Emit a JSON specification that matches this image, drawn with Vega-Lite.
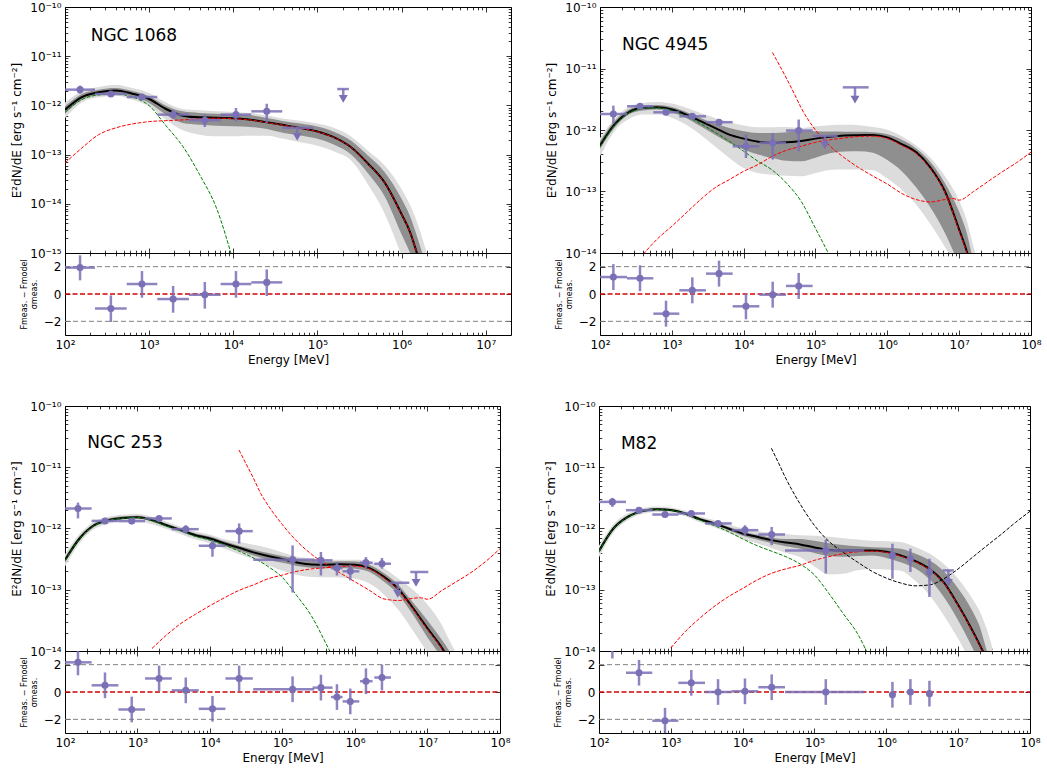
{
"$schema":"https://vega.github.io/schema/vega-lite/v6.json",
"padding":{"left":10,"top":0,"right":0,"bottom":0},
"config":{"font":"DejaVu Sans","view":{"stroke":"black","strokeWidth":1},"mark":{"invalid":"filter"},
"axis":{"domain":false,"grid":false,"tickColor":"black","tickWidth":0.8,"labelFont":"DejaVu Sans","labelFontSize":12,"labelColor":"black","titleFont":"DejaVu Sans","titleFontSize":12,"titleFontWeight":"normal","titleColor":"black","labelFlush":false,"labelOverlap":false}},
"datasets":{
"hl":[{"k":"g","r":2,"Ea":100,"Eb":100000000},{"k":"g","r":-2,"Ea":100,"Eb":100000000},{"k":"z","r":0,"Ea":100,"Eb":100000000}],
"c1":[
{"E":100,"t":8.19e-13,"dh":9.57e-13,"dl":6.79e-13,"lh":1.15e-12,"ll":5.55e-13,"g":7.24e-13,"r":6.75e-14},
{"E":158.5,"t":1.48e-12,"dh":1.71e-12,"dl":1.31e-12,"lh":1.93e-12,"ll":1.15e-12,"g":1.31e-12,"r":1.36e-13},
{"E":251.2,"t":1.85e-12,"dh":2.09e-12,"dl":1.65e-12,"lh":2.37e-12,"ll":1.46e-12,"g":1.63e-12,"r":2.54e-13},
{"E":398.1,"t":2.02e-12,"dh":2.26e-12,"dl":1.79e-12,"lh":2.64e-12,"ll":1.58e-12,"g":1.71e-12,"r":3.48e-13},
{"E":631,"t":1.73e-12,"dh":1.96e-12,"dl":1.53e-12,"lh":2.26e-12,"ll":1.31e-12,"g":1.48e-12,"r":4.19e-13},
{"E":1000,"t":1.35e-12,"dh":1.53e-12,"dl":1.12e-12,"lh":1.79e-12,"ll":9.57e-13,"g":9.89e-13,"r":4.68e-13},
{"E":1585,"t":8.45e-13,"dh":9.89e-13,"dl":6.49e-13,"lh":1.15e-12,"ll":5.13e-13,"g":3.87e-13,"r":4.9e-13},
{"E":2512,"t":6.18e-13,"dh":7.57e-13,"dl":4.39e-13,"lh":8.45e-13,"ll":3.11e-13,"g":1.47e-13,"r":5.07e-13},
{"E":3981,"t":5.71e-13,"dh":7.01e-13,"dl":4.06e-13,"lh":7.94e-13,"ll":2.54e-13,"g":3.91e-14,"r":5.31e-13},
{"E":6310,"t":5.64e-13,"dh":6.79e-13,"dl":3.87e-13,"lh":7.57e-13,"ll":2.35e-13,"g":8.22e-15,"r":5.5e-13},
{"E":10000,"t":5.46e-13,"dh":6.58e-13,"dl":3.76e-13,"lh":7.35e-13,"ll":2.35e-13,"g":6.76e-16,"r":5.37e-13},
{"E":15850,"t":5.13e-13,"dh":6.28e-13,"dl":3.64e-13,"lh":7.01e-13,"ll":2.43e-13,"r":5.07e-13},
{"E":25120,"t":4.53e-13,"dh":5.55e-13,"dl":3.31e-13,"lh":6.28e-13,"ll":2.43e-13,"r":4.47e-13},
{"E":39810,"t":3.98e-13,"dh":4.79e-13,"dl":2.75e-13,"lh":5.37e-13,"ll":2.09e-13,"r":3.94e-13},
{"E":63100,"t":3.47e-13,"dh":4.27e-13,"dl":2.45e-13,"lh":4.9e-13,"ll":1.78e-13,"r":3.43e-13},
{"E":100000,"t":2.95e-13,"dh":3.72e-13,"dl":2.09e-13,"lh":4.27e-13,"ll":1.51e-13,"r":2.92e-13},
{"E":158500,"t":2.24e-13,"dh":2.88e-13,"dl":1.58e-13,"lh":3.47e-13,"ll":1.15e-13,"r":2.21e-13},
{"E":251200,"t":1.41e-13,"dh":1.91e-13,"dl":1.0e-13,"lh":2.34e-13,"ll":7.59e-14,"r":1.4e-13},
{"E":398100,"t":6.61e-14,"dh":9.55e-14,"dl":4.17e-14,"lh":1.2e-13,"ll":2.51e-14,"r":6.53e-14},
{"E":631000,"t":2.69e-14,"dh":4.37e-14,"dl":1.41e-14,"lh":6.03e-14,"ll":6.31e-15,"r":2.66e-14},
{"E":1000000,"t":6.17e-15,"dh":1.26e-14,"dl":2.4e-15,"lh":2.0e-14,"ll":8.91e-16,"r":6.1e-15},
{"E":1259000,"t":2.69e-15,"dh":5.62e-15,"dl":1.0e-15,"lh":9.55e-15,"ll":3.16e-16,"r":2.66e-15},
{"E":1585000,"t":7.94e-16,"dh":1.78e-15,"dl":3.16e-16,"lh":3.55e-15,"ll":1e-16,"r":7.9e-16},
{"E":1995000,"t":2.0e-16,"dh":5.0e-16,"dl":6.3e-17,"lh":1e-15,"ll":3.2e-17,"r":2.0e-16}],
"p1":[
{"E":151,"F":2.09e-12,"Elo":100,"Ehi":227,"Flo":1.73e-12,"Fhi":2.52e-12,"res":1.93,"rl":1.0,"rh":2.83},
{"E":351,"F":1.71e-12,"Elo":227,"Ehi":541,"Flo":1.53e-12,"Fhi":1.9e-12,"res":-1.07,"rl":-2.05,"rh":-0.1},
{"E":822,"F":1.48e-12,"Elo":541,"Ehi":1250,"Flo":1.31e-12,"Fhi":1.68e-12,"res":0.73,"rl":-0.27,"rh":1.68},
{"E":1928,"F":6.49e-13,"Elo":1250,"Ehi":2972,"Flo":5.29e-13,"Fhi":7.94e-13,"res":-0.37,"rl":-1.37,"rh":0.59},
{"E":4590,"F":4.97e-13,"Elo":2972,"Ehi":7079,"Flo":3.64e-13,"Fhi":6.49e-13,"res":-0.05,"rl":-1.07,"rh":0.88},
{"E":10765,"F":6.49e-13,"Elo":7079,"Ehi":16368,"Flo":4.74e-13,"Fhi":8.85e-13,"res":0.73,"rl":-0.27,"rh":1.68},
{"E":25000,"F":7.57e-13,"Elo":16368,"Ehi":38194,"Flo":4.4e-13,"Fhi":1.08e-12,"res":0.85,"rl":-0.15,"rh":1.8},
{"E":57544,"F":3.5e-13,"Elo":38194,"Ehi":89125,"Ft":2.3e-13,"ul":true},
{"E":203000,"F":2.15e-12,"Elo":172000,"Ehi":237000,"Ft":1.35e-12,"ul":true}],
"c2":[
{"E":100,"t":5.57e-13,"dh":6.56e-13,"dl":4.92e-13,"lh":7.43e-13,"ll":3.74e-13,"g":5.31e-13},
{"E":158.5,"t":1.22e-12,"dh":1.39e-12,"dl":1.08e-12,"lh":1.51e-12,"ll":9.55e-13,"g":1.18e-12},
{"E":251.2,"t":1.94e-12,"dh":2.15e-12,"dl":1.78e-12,"lh":2.37e-12,"ll":1.51e-12,"g":1.89e-12},
{"E":398.1,"t":2.29e-12,"dh":2.49e-12,"dl":2.07e-12,"lh":2.75e-12,"ll":1.78e-12,"g":2.23e-12,"r":9.5e-15},
{"E":631,"t":2.34e-12,"dh":2.55e-12,"dl":2.15e-12,"lh":2.86e-12,"ll":1.78e-12,"g":2.29e-12,"r":1.7e-14},
{"E":1000,"t":2.15e-12,"dh":2.37e-12,"dl":1.94e-12,"lh":2.69e-12,"ll":1.57e-12,"g":2.07e-12,"r":2.73e-14},
{"E":1585,"t":1.78e-12,"dh":1.97e-12,"dl":1.57e-12,"lh":2.29e-12,"ll":1.22e-12,"g":1.67e-12,"r":4.49e-14},
{"E":2512,"t":1.39e-12,"dh":1.57e-12,"dl":1.15e-12,"lh":1.89e-12,"ll":8.41e-13,"g":1.27e-12,"r":7.4e-14},
{"E":3981,"t":1.08e-12,"dh":1.27e-12,"dl":8.41e-13,"lh":1.57e-12,"ll":5.45e-13,"g":9.18e-13,"r":1.15e-13},
{"E":6310,"t":8.41e-13,"dh":1.08e-12,"dl":6.17e-13,"lh":1.34e-12,"ll":3.52e-13,"g":6.56e-13,"r":1.56e-13},
{"E":10000,"t":7.24e-13,"dh":9.55e-13,"dl":4.8e-13,"lh":1.18e-12,"ll":2.42e-13,"g":4.51e-13,"r":2.13e-13},
{"E":15850,"t":6.46e-13,"dh":8.95e-13,"dl":3.98e-13,"lh":1.11e-12,"ll":2.0e-13,"g":3.1e-13,"r":2.74e-13},
{"E":25120,"t":6.17e-13,"dh":8.95e-13,"dl":3.52e-13,"lh":1.11e-12,"ll":1.88e-13,"g":2.22e-13,"r":3.74e-13,"s":1.82e-11},
{"E":31620,"s":1.12e-11},
{"E":39810,"t":6.31e-13,"dh":9.23e-13,"dl":3.16e-13,"lh":1.12e-12,"ll":1.8e-13,"g":1.35e-13,"r":4.69e-13,"s":6.76e-12},
{"E":50120,"s":3.98e-12},
{"E":63100,"t":6.61e-13,"dh":9.53e-13,"dl":3.1e-13,"lh":1.08e-12,"ll":1.77e-13,"g":6.92e-14,"r":5.43e-13,"s":2.29e-12},
{"E":100000,"t":7.24e-13,"dh":9.55e-13,"dl":3.55e-13,"lh":1.15e-12,"ll":2.0e-13,"g":2.51e-14,"r":6.31e-13,"s":1.0e-12},
{"E":158500,"t":7.76e-13,"dh":9.44e-13,"dl":4.17e-13,"lh":1.2e-12,"ll":2.24e-13,"g":8.91e-15,"r":6.92e-13,"s":5.5e-13},
{"E":251200,"t":8.13e-13,"dh":9.38e-13,"dl":4.47e-13,"lh":1.22e-12,"ll":2.27e-13,"r":7.41e-13,"s":3.55e-13},
{"E":398100,"t":8.22e-13,"dh":9.33e-13,"dl":4.51e-13,"lh":1.2e-12,"ll":2.27e-13,"r":7.85e-13,"s":2.45e-13},
{"E":631000,"t":8.32e-13,"dh":9.23e-13,"dl":4.27e-13,"lh":1.12e-12,"ll":2.21e-13,"r":7.94e-13,"s":1.78e-13},
{"E":1000000,"t":7.59e-13,"dh":8.51e-13,"dl":3.24e-13,"lh":1.01e-12,"ll":1.62e-13,"r":7.24e-13,"s":1.32e-13},
{"E":1585000,"t":5.89e-13,"dh":6.92e-13,"dl":2.14e-13,"lh":7.94e-13,"ll":1.07e-13,"r":5.62e-13,"s":9.33e-14},
{"E":2512000,"t":4.37e-13,"dh":5.01e-13,"dl":1.17e-13,"lh":5.62e-13,"ll":6.17e-14,"r":4.17e-13,"s":7.41e-14},
{"E":3981000,"t":2.45e-13,"dh":3.02e-13,"dl":5.5e-14,"lh":3.55e-13,"ll":2.95e-14,"r":2.34e-13,"s":6.76e-14},
{"E":6310000,"t":1.02e-13,"dh":1.38e-13,"dl":2.14e-14,"lh":1.78e-13,"ll":1.26e-14,"r":9.77e-14,"s":7.41e-14},
{"E":7943000,"s":7.76e-14},
{"E":10000000,"t":2.4e-14,"dh":4.68e-14,"dl":6.31e-15,"lh":7.08e-14,"ll":5.01e-15,"r":2.29e-14,"s":7.24e-14},
{"E":12590000,"t":1.12e-14,"dh":2.24e-14,"dl":3.16e-15,"lh":3.55e-14,"ll":2.51e-15,"r":1.07e-14},
{"E":15850000,"t":4.47e-15,"dh":7.08e-15,"dl":1.58e-15,"lh":1.26e-14,"ll":1.26e-15,"r":4.27e-15,"s":1.0e-13},
{"E":19950000,"t":1.58e-15,"dh":2.51e-15,"dl":6.3e-16,"lh":5.01e-15,"ll":5e-16,"r":1.51e-15},
{"E":25120000,"s":1.45e-13},
{"E":39810000,"s":2.09e-13},
{"E":63100000,"s":2.95e-13},
{"E":100000000,"s":4.37e-13}],
"p2":[
{"E":153.5,"F":1.82e-12,"Elo":100,"Ehi":237.7,"Flo":1.27e-12,"Fhi":2.49e-12,"res":1.24,"rl":0.29,"rh":2.19},
{"E":360.6,"F":2.43e-12,"Elo":237.7,"Ehi":552,"Flo":2.2e-12,"Fhi":2.69e-12,"res":1.15,"rl":0.2,"rh":2.1},
{"E":829.8,"F":1.94e-12,"Elo":552,"Ehi":1271,"Flo":1.76e-12,"Fhi":2.15e-12,"res":-1.44,"rl":-2.39,"rh":-0.49},
{"E":1928,"F":1.67e-12,"Elo":1271,"Ehi":2992,"Flo":1.51e-12,"Fhi":1.85e-12,"res":0.27,"rl":-0.68,"rh":1.22},
{"E":4539,"F":1.34e-12,"Elo":2992,"Ehi":7031,"Flo":1.18e-12,"Fhi":1.51e-12,"res":1.49,"rl":0.54,"rh":2.44},
{"E":10765,"F":5.44e-13,"Elo":7031,"Ehi":16520,"Flo":3.5e-13,"Fhi":8.4e-13,"res":-0.9,"rl":-1.85,"rh":0.05},
{"E":25350,"F":6.17e-13,"Elo":16520,"Ehi":38815,"Flo":3.3e-13,"Fhi":8.96e-13,"res":-0.05,"rl":-1.0,"rh":0.9},
{"E":58345,"F":9.78e-13,"Elo":38815,"Ehi":91201,"Flo":4.5e-13,"Fhi":1.48e-12,"res":0.59,"rl":-0.36,"rh":1.54},
{"E":134900,"F":8.0e-13,"Elo":91201,"Ehi":204174,"Ft":5.6e-13,"ul":true},
{"E":354800,"F":4.94e-12,"Elo":239900,"Ehi":549500,"Ft":3.12e-12,"ul":true}],
"c3":[
{"E":100,"t":3.05e-13,"dh":3.39e-13,"dl":2.75e-13,"lh":3.8e-13,"ll":2.4e-13,"g":2.98e-13},
{"E":158.5,"t":6.87e-13,"dh":7.41e-13,"dl":6.31e-13,"lh":8.13e-13,"ll":5.75e-13,"g":6.75e-13},
{"E":251.2,"t":1.13e-12,"dh":1.2e-12,"dl":1.06e-12,"lh":1.29e-12,"ll":9.77e-13,"g":1.11e-12},
{"E":398.1,"t":1.37e-12,"dh":1.45e-12,"dl":1.29e-12,"lh":1.55e-12,"ll":1.2e-12,"g":1.35e-12},
{"E":631,"t":1.49e-12,"dh":1.58e-12,"dl":1.41e-12,"lh":1.68e-12,"ll":1.3e-12,"g":1.47e-12},
{"E":1000,"t":1.53e-12,"dh":1.62e-12,"dl":1.45e-12,"lh":1.72e-12,"ll":1.33e-12,"g":1.51e-12},
{"E":1585,"t":1.37e-12,"dh":1.45e-12,"dl":1.29e-12,"lh":1.55e-12,"ll":1.17e-12,"g":1.35e-12,"r":1.1e-14},
{"E":2512,"t":1.13e-12,"dh":1.2e-12,"dl":1.06e-12,"lh":1.29e-12,"ll":9.77e-13,"g":1.1e-12,"r":1.82e-14},
{"E":3981,"t":9.4e-13,"dh":1.0e-12,"dl":8.81e-13,"lh":1.07e-12,"ll":8.04e-13,"g":9.1e-13,"r":2.82e-14},
{"E":6310,"t":7.78e-13,"dh":8.32e-13,"dl":7.24e-13,"lh":8.91e-13,"ll":6.61e-13,"g":7.41e-13,"r":3.98e-14},
{"E":10000,"t":6.87e-13,"dh":7.41e-13,"dl":6.31e-13,"lh":7.94e-13,"ll":5.75e-13,"g":6.46e-13,"r":5.5e-14},
{"E":15850,"t":5.69e-13,"dh":6.17e-13,"dl":5.19e-13,"lh":6.68e-13,"ll":4.68e-13,"g":5.37e-13,"r":7.41e-14},
{"E":25120,"t":4.84e-13,"dh":5.25e-13,"dl":4.37e-13,"lh":6.03e-13,"ll":3.8e-13,"g":4.27e-13,"r":9.77e-14,"s":1.91e-11},
{"E":31620,"s":1.12e-11},
{"E":39810,"t":4.07e-13,"dh":4.52e-13,"dl":3.63e-13,"lh":5.43e-13,"ll":3.16e-13,"g":3.31e-13,"r":1.2e-13,"s":6.61e-12},
{"E":50120,"s":3.72e-12},
{"E":63100,"t":3.55e-13,"dh":3.98e-13,"dl":3.09e-13,"lh":4.79e-13,"ll":2.51e-13,"g":2.4e-13,"r":1.51e-13,"s":2.4e-12},
{"E":100000,"t":3.16e-13,"dh":3.55e-13,"dl":2.75e-13,"lh":4.07e-13,"ll":2.04e-13,"g":1.58e-13,"r":1.74e-13,"s":1.15e-12},
{"E":158500,"t":2.79e-13,"dh":3.16e-13,"dl":2.45e-13,"lh":3.47e-13,"ll":1.74e-13,"g":7.94e-14,"r":2.0e-13,"s":6.17e-13},
{"E":251200,"t":2.59e-13,"dh":2.95e-13,"dl":2.29e-13,"lh":3.24e-13,"ll":1.62e-13,"g":3.72e-14,"r":2.19e-13,"s":3.8e-13},
{"E":398100,"t":2.57e-13,"dh":2.88e-13,"dl":2.24e-13,"lh":3.13e-13,"ll":1.6e-13,"g":1.32e-14,"r":2.29e-13,"s":2.6e-13},
{"E":631000,"t":2.6e-13,"dh":2.92e-13,"dl":2.26e-13,"lh":3.09e-13,"ll":1.58e-13,"g":4.47e-15,"r":2.4e-13,"s":1.86e-13},
{"E":1000000,"t":2.57e-13,"dh":2.88e-13,"dl":2.21e-13,"lh":3.09e-13,"ll":1.51e-13,"r":2.43e-13,"s":1.35e-13},
{"E":1585000,"t":2.26e-13,"dh":2.57e-13,"dl":1.95e-13,"lh":2.88e-13,"ll":1.26e-13,"r":2.19e-13,"s":9.77e-14},
{"E":2512000,"t":1.62e-13,"dh":1.86e-13,"dl":1.35e-13,"lh":2.24e-13,"ll":8.32e-14,"r":1.57e-13,"s":7.08e-14},
{"E":3981000,"t":1.02e-13,"dh":1.2e-13,"dl":8.32e-14,"lh":1.51e-13,"ll":4.68e-14,"r":9.89e-14,"s":6.68e-14},
{"E":6310000,"t":5.01e-14,"dh":6.17e-14,"dl":3.89e-14,"lh":1.0e-13,"ll":2.14e-14,"r":4.84e-14,"s":7.24e-14},
{"E":7943000,"s":7.41e-14},
{"E":10000000,"t":2.34e-14,"dh":3.16e-14,"dl":1.66e-14,"lh":5.75e-14,"ll":9.55e-15,"r":2.26e-14,"s":7.0e-14},
{"E":15850000,"t":1.12e-14,"dh":1.51e-14,"dl":7.59e-15,"lh":2.63e-14,"ll":4.47e-15,"r":1.08e-14,"s":9.77e-14},
{"E":19950000,"t":7.08e-15,"dh":1.0e-14,"dl":4.68e-15,"lh":1.51e-14,"ll":2.82e-15,"r":6.84e-15},
{"E":25120000,"t":3.98e-15,"dh":6.31e-15,"dl":2.51e-15,"lh":8.91e-15,"ll":1.58e-15,"r":3.9e-15,"s":1.36e-13},
{"E":39810000,"s":1.91e-13},
{"E":63100000,"s":2.88e-13},
{"E":100000000,"s":4.68e-13}],
"p3":[
{"E":151,"F":2.12e-12,"Elo":100,"Ehi":233,"Flo":1.46e-12,"Fhi":2.65e-12,"res":2.17,"rl":1.22,"rh":3.0},
{"E":356,"F":1.33e-12,"Elo":233,"Ehi":545,"Flo":1.21e-12,"Fhi":1.46e-12,"res":0.49,"rl":-0.45,"rh":1.43},
{"E":832,"F":1.32e-12,"Elo":545,"Ehi":1271,"Flo":1.2e-12,"Fhi":1.46e-12,"res":-1.28,"rl":-2.22,"rh":-0.34},
{"E":1986,"F":1.46e-12,"Elo":1271,"Ehi":2972,"Flo":1.33e-12,"Fhi":1.59e-12,"res":0.99,"rl":0.05,"rh":1.93},
{"E":4634,"F":9.75e-13,"Elo":2972,"Ehi":6998,"Flo":8.28e-13,"Fhi":1.13e-12,"res":0.12,"rl":-0.82,"rh":1.06},
{"E":10814,"F":5.22e-13,"Elo":6998,"Ehi":16330,"Flo":3.46e-13,"Fhi":6.45e-13,"res":-1.23,"rl":-2.17,"rh":-0.29},
{"E":25235,"F":9.05e-13,"Elo":16330,"Ehi":38900,"Flo":5.69e-13,"Fhi":1.21e-12,"res":0.99,"rl":0.05,"rh":1.93},
{"E":137700,"F":3.1e-13,"Elo":39450,"Ehi":274200,"Flo":9.0e-14,"Fhi":5.3e-13,"res":0.2,"rl":-0.74,"rh":1.14},
{"E":338800,"F":3.02e-13,"Elo":260000,"Ehi":489800,"Flo":1.71e-13,"Fhi":4.13e-13,"res":0.32,"rl":-0.62,"rh":1.26},
{"E":563700,"F":2.26e-13,"Elo":465600,"Ehi":674500,"Flo":1.71e-13,"Fhi":2.84e-13,"res":-0.37,"rl":-1.31,"rh":0.57},
{"E":861000,"F":2.0e-13,"Elo":674500,"Ehi":1146000,"Flo":1.42e-13,"Fhi":2.56e-13,"res":-0.69,"rl":-1.63,"rh":0.25},
{"E":1416000,"F":2.77e-13,"Elo":1170000,"Ehi":1750000,"Flo":2.26e-13,"Fhi":3.42e-13,"res":0.79,"rl":-0.15,"rh":1.73},
{"E":2355000,"F":2.66e-13,"Elo":1845000,"Ehi":3133000,"Flo":2.21e-13,"Fhi":3.3e-13,"res":1.06,"rl":0.12,"rh":2.0},
{"E":3882000,"F":1.3e-13,"Elo":2972000,"Ehi":5610000,"Ft":8.6e-14,"ul":true},
{"E":6950000,"F":1.95e-13,"Elo":5790000,"Ehi":10260000,"Ft":1.3e-13,"ul":true}],
"c4":[
{"E":100,"t":4.27e-13,"dh":4.68e-13,"dl":3.89e-13,"lh":5.25e-13,"ll":3.39e-13,"g":4.22e-13},
{"E":158.5,"t":1.0e-12,"dh":1.07e-12,"dl":9.33e-13,"lh":1.17e-12,"ll":8.51e-13,"g":9.89e-13},
{"E":251.2,"t":1.55e-12,"dh":1.64e-12,"dl":1.46e-12,"lh":1.76e-12,"ll":1.36e-12,"g":1.53e-12},
{"E":398.1,"t":1.92e-12,"dh":2.02e-12,"dl":1.82e-12,"lh":2.14e-12,"ll":1.72e-12,"g":1.9e-12},
{"E":631,"t":2.07e-12,"dh":2.16e-12,"dl":1.97e-12,"lh":2.29e-12,"ll":1.86e-12,"g":2.04e-12},
{"E":1000,"t":2.0e-12,"dh":2.09e-12,"dl":1.91e-12,"lh":2.21e-12,"ll":1.8e-12,"g":1.97e-12,"r":1.12e-14},
{"E":1585,"t":1.76e-12,"dh":1.84e-12,"dl":1.68e-12,"lh":1.95e-12,"ll":1.58e-12,"g":1.74e-12,"r":2.07e-14},
{"E":2512,"t":1.42e-12,"dh":1.5e-12,"dl":1.35e-12,"lh":1.58e-12,"ll":1.26e-12,"g":1.38e-12,"r":3.41e-14},
{"E":3981,"t":1.21e-12,"dh":1.29e-12,"dl":1.14e-12,"lh":1.38e-12,"ll":1.05e-12,"g":1.12e-12,"r":5.28e-14},
{"E":6310,"t":1.0e-12,"dh":1.07e-12,"dl":9.33e-13,"lh":1.17e-12,"ll":8.51e-13,"g":8.91e-13,"r":7.69e-14},
{"E":10000,"t":8.28e-13,"dh":8.91e-13,"dl":7.59e-13,"lh":1.0e-12,"ll":6.76e-13,"g":6.76e-13,"r":1.05e-13},
{"E":15850,"t":7.31e-13,"dh":7.94e-13,"dl":6.61e-13,"lh":9.12e-13,"ll":5.75e-13,"g":5.25e-13,"r":1.44e-13},
{"E":25120,"t":6.46e-13,"dh":7.08e-13,"dl":5.75e-13,"lh":8.51e-13,"ll":4.79e-13,"g":4.27e-13,"r":1.85e-13,"s":2.04e-11},
{"E":31620,"s":1.17e-11},
{"E":39810,"t":5.89e-13,"dh":6.76e-13,"dl":5.13e-13,"lh":8.13e-13,"ll":3.98e-13,"g":3.47e-13,"r":2.19e-13,"s":6.61e-12},
{"E":50120,"s":3.98e-12},
{"E":63100,"t":5.5e-13,"dh":6.76e-13,"dl":4.68e-13,"lh":7.76e-13,"ll":3.39e-13,"g":2.63e-13,"r":2.51e-13,"s":2.51e-12},
{"E":100000,"t":4.9e-13,"dh":6.31e-13,"dl":3.98e-13,"lh":7.59e-13,"ll":2.4e-13,"g":1.74e-13,"r":3.02e-13,"s":1.12e-12},
{"E":158500,"t":4.47e-13,"dh":5.75e-13,"dl":3.55e-13,"lh":7.33e-13,"ll":1.78e-13,"g":8.71e-14,"r":3.47e-13,"s":6.17e-13},
{"E":251200,"t":4.37e-13,"dh":5.37e-13,"dl":3.47e-13,"lh":6.92e-13,"ll":1.82e-13,"g":4.07e-14,"r":3.89e-13,"s":4.07e-13},
{"E":398100,"t":4.37e-13,"dh":5.13e-13,"dl":3.55e-13,"lh":6.61e-13,"ll":2.09e-13,"g":1.91e-14,"r":4.17e-13,"s":2.82e-13},
{"E":631000,"t":4.37e-13,"dh":4.95e-13,"dl":3.63e-13,"lh":6.31e-13,"ll":2.19e-13,"g":6.31e-15,"r":4.27e-13,"s":2.0e-13},
{"E":1000000,"t":4.17e-13,"dh":4.84e-13,"dl":3.31e-13,"lh":6.17e-13,"ll":2.14e-13,"r":4.07e-13,"s":1.55e-13},
{"E":1585000,"t":3.63e-13,"dh":4.68e-13,"dl":2.82e-13,"lh":6.03e-13,"ll":2.04e-13,"r":3.55e-13,"s":1.29e-13},
{"E":2512000,"t":2.95e-13,"dh":3.89e-13,"dl":2.24e-13,"lh":5.01e-13,"ll":1.41e-13,"r":2.88e-13,"s":1.16e-13},
{"E":3981000,"t":2.19e-13,"dh":3.02e-13,"dl":1.48e-13,"lh":3.89e-13,"ll":8.13e-14,"r":2.14e-13,"s":1.2e-13},
{"E":6310000,"t":1.32e-13,"dh":2.0e-13,"dl":7.59e-14,"lh":2.63e-13,"ll":3.8e-14,"r":1.29e-13,"s":1.51e-13},
{"E":10000000,"t":5.62e-14,"dh":1.05e-13,"dl":3.16e-14,"lh":1.51e-13,"ll":1.58e-14,"r":5.5e-14,"s":2.19e-13},
{"E":15850000,"t":2.14e-14,"dh":4.47e-14,"dl":1.12e-14,"lh":7.08e-14,"ll":5.62e-15,"r":2.09e-14,"s":3.39e-13},
{"E":19950000,"t":1.26e-14,"dh":2.51e-14,"dl":6.31e-15,"lh":4.47e-14,"ll":3.16e-15,"r":1.23e-14},
{"E":25120000,"t":7.08e-15,"dh":1.0e-14,"dl":3.16e-15,"lh":2.24e-14,"ll":1.58e-15,"r":6.92e-15,"s":5.25e-13},
{"E":31620000,"t":3.16e-15,"dh":4.47e-15,"dl":1.58e-15,"lh":8.91e-15,"ll":7.9e-16,"r":3.1e-15},
{"E":39810000,"s":8.04e-13},
{"E":63100000,"s":1.26e-12},
{"E":100000000,"s":1.91e-12}],
"p4":[
{"E":153.5,"F":2.72e-12,"Elo":100,"Ehi":237.7,"Flo":2.25e-12,"Fhi":3.16e-12,"res":3.4,"rl":2.45,"rh":4.35},
{"E":360.6,"F":1.99e-12,"Elo":237.7,"Ehi":552,"Flo":1.86e-12,"Fhi":2.13e-12,"res":1.41,"rl":0.47,"rh":2.35},
{"E":829.8,"F":1.69e-12,"Elo":552,"Ehi":1271,"Flo":1.58e-12,"Fhi":1.81e-12,"res":-2.1,"rl":-3.04,"rh":-1.16},
{"E":1928,"F":1.76e-12,"Elo":1271,"Ehi":2992,"Flo":1.65e-12,"Fhi":1.88e-12,"res":0.67,"rl":-0.27,"rh":1.61},
{"E":4539,"F":1.21e-12,"Elo":2992,"Ehi":7031,"Flo":1.12e-12,"Fhi":1.31e-12,"res":0.0,"rl":-0.94,"rh":0.94},
{"E":10765,"F":9.4e-13,"Elo":7031,"Ehi":16520,"Flo":7.6e-13,"Fhi":1.13e-12,"res":0.05,"rl":-0.89,"rh":0.99},
{"E":25350,"F":7.98e-13,"Elo":16520,"Ehi":38815,"Flo":5.35e-13,"Fhi":1.06e-12,"res":0.35,"rl":-0.59,"rh":1.29},
{"E":143600,"F":4.37e-13,"Elo":38815,"Ehi":494300,"Flo":1.84e-13,"Fhi":6.6e-13,"res":0.0,"rl":-0.94,"rh":0.94},
{"E":1216000,"F":3.64e-13,"Flo":1.51e-13,"Fhi":5.65e-13,"res":-0.2,"rl":-1.14,"rh":0.74},
{"E":2163000,"F":3.21e-13,"Flo":1.95e-13,"Fhi":4.68e-13,"res":0.0,"rl":-0.94,"rh":0.94},
{"E":3981000,"F":1.95e-13,"Flo":7.62e-14,"Fhi":3.21e-13,"res":-0.12,"rl":-1.06,"rh":0.82},
{"E":7300000,"F":2.07e-13,"Elo":6100000,"Ehi":8700000,"Ft":1.3e-13,"ul":true}]
},
"spacing":33,
"vconcat":[
{"spacing":33,"hconcat":[
{"spacing":0,"bounds":"flush","vconcat":[
{"width":446,"height":246,"resolve":{"axis":{"x":"independent","y":"independent"}},"layer":[
{"data":{"name":"c1"},"mark":{"type":"area","color":"#dcdcdc","interpolate":"monotone","clip":true},"encoding":{"x":{"field":"E","type":"quantitative","scale":{"type":"log","domain":[100,20000000],"nice":false},"axis":{"orient":"bottom","values":[100,1000,10000,100000,1000000,10000000],"labels":false,"title":null,"tickSize":-5}},"y":{"field":"ll","type":"quantitative","scale":{"type":"log","domain":[1e-15,1e-10],"nice":false},"axis":{"orient":"left","values":[1e-15,1e-14,1e-13,1e-12,1e-11,1e-10],"labelExpr":"['10⁻¹⁰','10⁻¹¹','10⁻¹²','10⁻¹³','10⁻¹⁴','10⁻¹⁵'][-round(log(datum.value)/LN10)-10]","title":"E²dN/dE [erg s⁻¹ cm⁻²]","titlePadding":6,"tickSize":-5,"labelPadding":9}},"y2":{"field":"lh"}}},
{"data":{"name":"c1"},"mark":{"type":"area","color":"#8f8f8f","interpolate":"monotone","clip":true},"encoding":{"x":{"field":"E","type":"quantitative","scale":{"type":"log","domain":[100,20000000],"nice":false},"axis":{"orient":"bottom","values":[200,300,400,500,600,700,800,900,2000,3000,4000,5000,6000,7000,8000,9000,20000,30000,40000,50000,60000,70000,80000,90000,200000,300000,400000,500000,600000,700000,800000,900000,2000000,3000000,4000000,5000000,6000000,7000000,8000000,9000000],"labels":false,"title":null,"tickSize":-2.8}},"y":{"field":"dl","type":"quantitative","scale":{"type":"log","domain":[1e-15,1e-10],"nice":false},"axis":{"orient":"left","values":[2e-15,3e-15,4e-15,5e-15,6e-15,7e-15,8e-15,9e-15,2e-14,3e-14,4e-14,5e-14,6e-14,7e-14,8e-14,9e-14,2e-13,3e-13,4e-13,5e-13,6e-13,7e-13,8e-13,9e-13,2e-12,3e-12,4e-12,5e-12,6e-12,7e-12,8e-12,9e-12,2e-11,3e-11,4e-11,5e-11,6e-11,7e-11,8e-11,9e-11],"labels":false,"title":null,"tickSize":-2.8}},"y2":{"field":"dh"}}},
{"data":{"name":"c1"},"mark":{"type":"line","color":"black","strokeWidth":2,"interpolate":"monotone","clip":true},"encoding":{"x":{"field":"E","type":"quantitative","scale":{"type":"log","domain":[100,20000000],"nice":false},"axis":{"orient":"top","values":[100,1000,10000,100000,1000000,10000000],"labels":false,"title":null,"tickSize":-5}},"y":{"field":"t","type":"quantitative","scale":{"type":"log","domain":[1e-15,1e-10],"nice":false},"axis":{"orient":"right","values":[1e-15,1e-14,1e-13,1e-12,1e-11,1e-10],"labels":false,"title":null,"tickSize":-5}}}},
{"data":{"name":"c1"},"mark":{"type":"line","color":"green","strokeWidth":1,"strokeDash":[3.7,1.6],"interpolate":"monotone","clip":true},"encoding":{"x":{"field":"E","type":"quantitative","scale":{"type":"log","domain":[100,20000000],"nice":false},"axis":{"orient":"top","values":[200,300,400,500,600,700,800,900,2000,3000,4000,5000,6000,7000,8000,9000,20000,30000,40000,50000,60000,70000,80000,90000,200000,300000,400000,500000,600000,700000,800000,900000,2000000,3000000,4000000,5000000,6000000,7000000,8000000,9000000],"labels":false,"title":null,"tickSize":-2.8}},"y":{"field":"g","type":"quantitative","scale":{"type":"log","domain":[1e-15,1e-10],"nice":false},"axis":{"orient":"right","values":[2e-15,3e-15,4e-15,5e-15,6e-15,7e-15,8e-15,9e-15,2e-14,3e-14,4e-14,5e-14,6e-14,7e-14,8e-14,9e-14,2e-13,3e-13,4e-13,5e-13,6e-13,7e-13,8e-13,9e-13,2e-12,3e-12,4e-12,5e-12,6e-12,7e-12,8e-12,9e-12,2e-11,3e-11,4e-11,5e-11,6e-11,7e-11,8e-11,9e-11],"labels":false,"title":null,"tickSize":-2.8}}}},
{"data":{"name":"c1"},"mark":{"type":"line","color":"red","strokeWidth":1,"strokeDash":[3.7,1.6],"interpolate":"monotone","clip":true},"encoding":{"x":{"field":"E","type":"quantitative","scale":{"type":"log","domain":[100,20000000],"nice":false},"axis":null},"y":{"field":"r","type":"quantitative","scale":{"type":"log","domain":[1e-15,1e-10],"nice":false},"axis":null}}},
{"data":{"name":"p1"},"transform":[{"filter":"datum.Elo != null"}],"mark":{"type":"rule","color":"#7a70b5","strokeWidth":2.5,"opacity":0.85,"clip":true},"encoding":{"x":{"field":"Elo","type":"quantitative","scale":{"type":"log","domain":[100,20000000],"nice":false},"axis":null},"x2":{"field":"Ehi"},"y":{"field":"F","type":"quantitative","scale":{"type":"log","domain":[1e-15,1e-10],"nice":false},"axis":null}}},
{"data":{"name":"p1"},"transform":[{"filter":"!datum.ul"}],"mark":{"type":"rule","color":"#7a70b5","strokeWidth":2.5,"opacity":0.85,"clip":true},"encoding":{"x":{"field":"E","type":"quantitative","scale":{"type":"log","domain":[100,20000000],"nice":false},"axis":null},"y":{"field":"Flo","type":"quantitative","scale":{"type":"log","domain":[1e-15,1e-10],"nice":false},"axis":null},"y2":{"field":"Fhi"}}},
{"data":{"name":"p1"},"transform":[{"filter":"datum.ul"}],"mark":{"type":"rule","color":"#7a70b5","strokeWidth":2.5,"opacity":0.85,"clip":true},"encoding":{"x":{"field":"E","type":"quantitative","scale":{"type":"log","domain":[100,20000000],"nice":false},"axis":null},"y":{"field":"Ft","type":"quantitative","scale":{"type":"log","domain":[1e-15,1e-10],"nice":false},"axis":null},"y2":{"field":"F"}}},
{"data":{"name":"p1"},"transform":[{"filter":"!datum.ul"}],"mark":{"type":"point","shape":"circle","filled":true,"size":50,"color":"#7a70b5","opacity":1,"clip":true},"encoding":{"x":{"field":"E","type":"quantitative","scale":{"type":"log","domain":[100,20000000],"nice":false},"axis":null},"y":{"field":"F","type":"quantitative","scale":{"type":"log","domain":[1e-15,1e-10],"nice":false},"axis":null}}},
{"data":{"name":"p1"},"transform":[{"filter":"datum.ul"}],"mark":{"type":"point","shape":"triangle-down","filled":true,"size":80,"color":"#7a70b5","opacity":1,"clip":true},"encoding":{"x":{"field":"E","type":"quantitative","scale":{"type":"log","domain":[100,20000000],"nice":false},"axis":null},"y":{"field":"Ft","type":"quantitative","scale":{"type":"log","domain":[1e-15,1e-10],"nice":false},"axis":null}}},
{"data":{"values":[{"E":202,"F":2.6e-11,"name":"NGC 1068"}]},"mark":{"type":"text","align":"left","baseline":"middle","fontSize":17,"font":"DejaVu Sans","color":"black"},"encoding":{"x":{"field":"E","type":"quantitative","scale":{"type":"log","domain":[100,20000000],"nice":false},"axis":null},"y":{"field":"F","type":"quantitative","scale":{"type":"log","domain":[1e-15,1e-10],"nice":false},"axis":null},"text":{"field":"name"}}}
]},
{"width":446,"height":82,"resolve":{"axis":{"x":"independent","y":"independent"}},"layer":[
{"data":{"name":"hl"},"transform":[{"filter":"datum.k=='g'"}],"mark":{"type":"rule","color":"#808080","strokeWidth":1,"strokeDash":[5,3],"clip":true},"encoding":{"x":{"field":"Ea","type":"quantitative","scale":{"type":"log","domain":[100,20000000],"nice":false},"axis":{"orient":"bottom","values":[100,1000,10000,100000,1000000,10000000],"labelExpr":"'10' + ['⁰','¹','²','³','⁴','⁵','⁶','⁷','⁸','⁹'][round(log(datum.value)/LN10)]","title":"Energy [MeV]","tickSize":-5,"labelPadding":9}},"x2":{"field":"Eb"},"y":{"field":"r","type":"quantitative","scale":{"domain":[-3,3],"nice":false},"axis":{"orient":"left","values":[-2,0,2],"title":["Fmeas. − Fmodel","σmeas."],"titleFontSize":8,"titlePadding":5,"tickSize":-5,"labelPadding":9}}}},
{"data":{"name":"hl"},"transform":[{"filter":"datum.k=='z'"}],"mark":{"type":"rule","color":"#d40000","strokeWidth":1.6,"strokeDash":[5,2.5],"clip":true},"encoding":{"x":{"field":"Ea","type":"quantitative","scale":{"type":"log","domain":[100,20000000],"nice":false},"axis":{"orient":"bottom","values":[200,300,400,500,600,700,800,900,2000,3000,4000,5000,6000,7000,8000,9000,20000,30000,40000,50000,60000,70000,80000,90000,200000,300000,400000,500000,600000,700000,800000,900000,2000000,3000000,4000000,5000000,6000000,7000000,8000000,9000000],"labels":false,"title":null,"tickSize":-2.8}},"x2":{"field":"Eb"},"y":{"field":"r","type":"quantitative","scale":{"domain":[-3,3],"nice":false},"axis":{"orient":"right","values":[-2,0,2],"labels":false,"title":null,"tickSize":-5}}}},
{"data":{"name":"p1"},"transform":[{"filter":"datum.res != null && datum.Elo != null"}],"mark":{"type":"rule","color":"#7a70b5","strokeWidth":2.5,"opacity":0.85,"clip":true},"encoding":{"x":{"field":"Elo","type":"quantitative","scale":{"type":"log","domain":[100,20000000],"nice":false},"axis":{"orient":"top","values":[100,1000,10000,100000,1000000,10000000],"labels":false,"title":null,"tickSize":-5}},"x2":{"field":"Ehi"},"y":{"field":"res","type":"quantitative","scale":{"domain":[-3,3],"nice":false},"axis":null}}},
{"data":{"name":"p1"},"transform":[{"filter":"datum.res != null"}],"mark":{"type":"rule","color":"#7a70b5","strokeWidth":2.5,"opacity":0.85,"clip":true},"encoding":{"x":{"field":"E","type":"quantitative","scale":{"type":"log","domain":[100,20000000],"nice":false},"axis":{"orient":"top","values":[200,300,400,500,600,700,800,900,2000,3000,4000,5000,6000,7000,8000,9000,20000,30000,40000,50000,60000,70000,80000,90000,200000,300000,400000,500000,600000,700000,800000,900000,2000000,3000000,4000000,5000000,6000000,7000000,8000000,9000000],"labels":false,"title":null,"tickSize":-2.8}},"y":{"field":"rl","type":"quantitative","scale":{"domain":[-3,3],"nice":false},"axis":null},"y2":{"field":"rh"}}},
{"data":{"name":"p1"},"transform":[{"filter":"datum.res != null"}],"mark":{"type":"point","shape":"circle","filled":true,"size":50,"color":"#7a70b5","opacity":1,"clip":true},"encoding":{"x":{"field":"E","type":"quantitative","scale":{"type":"log","domain":[100,20000000],"nice":false},"axis":null},"y":{"field":"res","type":"quantitative","scale":{"domain":[-3,3],"nice":false},"axis":null}}}
]}
]},
{"spacing":0,"bounds":"flush","vconcat":[
{"width":431,"height":246,"resolve":{"axis":{"x":"independent","y":"independent"}},"layer":[
{"data":{"name":"c2"},"mark":{"type":"area","color":"#dcdcdc","interpolate":"monotone","clip":true},"encoding":{"x":{"field":"E","type":"quantitative","scale":{"type":"log","domain":[100,100000000],"nice":false},"axis":{"orient":"bottom","values":[100,1000,10000,100000,1000000,10000000,100000000],"labels":false,"title":null,"tickSize":-5}},"y":{"field":"ll","type":"quantitative","scale":{"type":"log","domain":[1e-14,1e-10],"nice":false},"axis":{"orient":"left","values":[1e-14,1e-13,1e-12,1e-11,1e-10],"labelExpr":"['10⁻¹⁰','10⁻¹¹','10⁻¹²','10⁻¹³','10⁻¹⁴','10⁻¹⁵'][-round(log(datum.value)/LN10)-10]","title":"E²dN/dE [erg s⁻¹ cm⁻²]","titlePadding":6,"tickSize":-5,"labelPadding":9}},"y2":{"field":"lh"}}},
{"data":{"name":"c2"},"mark":{"type":"area","color":"#8f8f8f","interpolate":"monotone","clip":true},"encoding":{"x":{"field":"E","type":"quantitative","scale":{"type":"log","domain":[100,100000000],"nice":false},"axis":{"orient":"bottom","values":[200,300,400,500,600,700,800,900,2000,3000,4000,5000,6000,7000,8000,9000,20000,30000,40000,50000,60000,70000,80000,90000,200000,300000,400000,500000,600000,700000,800000,900000,2000000,3000000,4000000,5000000,6000000,7000000,8000000,9000000,20000000,30000000,40000000,50000000,60000000,70000000,80000000,90000000],"labels":false,"title":null,"tickSize":-2.8}},"y":{"field":"dl","type":"quantitative","scale":{"type":"log","domain":[1e-14,1e-10],"nice":false},"axis":{"orient":"left","values":[2e-14,3e-14,4e-14,5e-14,6e-14,7e-14,8e-14,9e-14,2e-13,3e-13,4e-13,5e-13,6e-13,7e-13,8e-13,9e-13,2e-12,3e-12,4e-12,5e-12,6e-12,7e-12,8e-12,9e-12,2e-11,3e-11,4e-11,5e-11,6e-11,7e-11,8e-11,9e-11],"labels":false,"title":null,"tickSize":-2.8}},"y2":{"field":"dh"}}},
{"data":{"name":"c2"},"mark":{"type":"line","color":"black","strokeWidth":2,"interpolate":"monotone","clip":true},"encoding":{"x":{"field":"E","type":"quantitative","scale":{"type":"log","domain":[100,100000000],"nice":false},"axis":{"orient":"top","values":[100,1000,10000,100000,1000000,10000000,100000000],"labels":false,"title":null,"tickSize":-5}},"y":{"field":"t","type":"quantitative","scale":{"type":"log","domain":[1e-14,1e-10],"nice":false},"axis":{"orient":"right","values":[1e-14,1e-13,1e-12,1e-11,1e-10],"labels":false,"title":null,"tickSize":-5}}}},
{"data":{"name":"c2"},"mark":{"type":"line","color":"green","strokeWidth":1,"strokeDash":[3.7,1.6],"interpolate":"monotone","clip":true},"encoding":{"x":{"field":"E","type":"quantitative","scale":{"type":"log","domain":[100,100000000],"nice":false},"axis":{"orient":"top","values":[200,300,400,500,600,700,800,900,2000,3000,4000,5000,6000,7000,8000,9000,20000,30000,40000,50000,60000,70000,80000,90000,200000,300000,400000,500000,600000,700000,800000,900000,2000000,3000000,4000000,5000000,6000000,7000000,8000000,9000000,20000000,30000000,40000000,50000000,60000000,70000000,80000000,90000000],"labels":false,"title":null,"tickSize":-2.8}},"y":{"field":"g","type":"quantitative","scale":{"type":"log","domain":[1e-14,1e-10],"nice":false},"axis":{"orient":"right","values":[2e-14,3e-14,4e-14,5e-14,6e-14,7e-14,8e-14,9e-14,2e-13,3e-13,4e-13,5e-13,6e-13,7e-13,8e-13,9e-13,2e-12,3e-12,4e-12,5e-12,6e-12,7e-12,8e-12,9e-12,2e-11,3e-11,4e-11,5e-11,6e-11,7e-11,8e-11,9e-11],"labels":false,"title":null,"tickSize":-2.8}}}},
{"data":{"name":"c2"},"mark":{"type":"line","color":"red","strokeWidth":1,"strokeDash":[3.7,1.6],"interpolate":"monotone","clip":true},"encoding":{"x":{"field":"E","type":"quantitative","scale":{"type":"log","domain":[100,100000000],"nice":false},"axis":null},"y":{"field":"r","type":"quantitative","scale":{"type":"log","domain":[1e-14,1e-10],"nice":false},"axis":null}}},
{"data":{"name":"c2"},"mark":{"type":"line","color":"red","strokeWidth":1,"strokeDash":[3.7,1.6],"interpolate":"monotone","clip":true},"encoding":{"x":{"field":"E","type":"quantitative","scale":{"type":"log","domain":[100,100000000],"nice":false},"axis":null},"y":{"field":"s","type":"quantitative","scale":{"type":"log","domain":[1e-14,1e-10],"nice":false},"axis":null}}},
{"data":{"name":"p2"},"transform":[{"filter":"datum.Elo != null"}],"mark":{"type":"rule","color":"#7a70b5","strokeWidth":2.5,"opacity":0.85,"clip":true},"encoding":{"x":{"field":"Elo","type":"quantitative","scale":{"type":"log","domain":[100,100000000],"nice":false},"axis":null},"x2":{"field":"Ehi"},"y":{"field":"F","type":"quantitative","scale":{"type":"log","domain":[1e-14,1e-10],"nice":false},"axis":null}}},
{"data":{"name":"p2"},"transform":[{"filter":"!datum.ul"}],"mark":{"type":"rule","color":"#7a70b5","strokeWidth":2.5,"opacity":0.85,"clip":true},"encoding":{"x":{"field":"E","type":"quantitative","scale":{"type":"log","domain":[100,100000000],"nice":false},"axis":null},"y":{"field":"Flo","type":"quantitative","scale":{"type":"log","domain":[1e-14,1e-10],"nice":false},"axis":null},"y2":{"field":"Fhi"}}},
{"data":{"name":"p2"},"transform":[{"filter":"datum.ul"}],"mark":{"type":"rule","color":"#7a70b5","strokeWidth":2.5,"opacity":0.85,"clip":true},"encoding":{"x":{"field":"E","type":"quantitative","scale":{"type":"log","domain":[100,100000000],"nice":false},"axis":null},"y":{"field":"Ft","type":"quantitative","scale":{"type":"log","domain":[1e-14,1e-10],"nice":false},"axis":null},"y2":{"field":"F"}}},
{"data":{"name":"p2"},"transform":[{"filter":"!datum.ul"}],"mark":{"type":"point","shape":"circle","filled":true,"size":50,"color":"#7a70b5","opacity":1,"clip":true},"encoding":{"x":{"field":"E","type":"quantitative","scale":{"type":"log","domain":[100,100000000],"nice":false},"axis":null},"y":{"field":"F","type":"quantitative","scale":{"type":"log","domain":[1e-14,1e-10],"nice":false},"axis":null}}},
{"data":{"name":"p2"},"transform":[{"filter":"datum.ul"}],"mark":{"type":"point","shape":"triangle-down","filled":true,"size":80,"color":"#7a70b5","opacity":1,"clip":true},"encoding":{"x":{"field":"E","type":"quantitative","scale":{"type":"log","domain":[100,100000000],"nice":false},"axis":null},"y":{"field":"Ft","type":"quantitative","scale":{"type":"log","domain":[1e-14,1e-10],"nice":false},"axis":null}}},
{"data":{"values":[{"E":202,"F":2.44e-11,"name":"NGC 4945"}]},"mark":{"type":"text","align":"left","baseline":"middle","fontSize":17,"font":"DejaVu Sans","color":"black"},"encoding":{"x":{"field":"E","type":"quantitative","scale":{"type":"log","domain":[100,100000000],"nice":false},"axis":null},"y":{"field":"F","type":"quantitative","scale":{"type":"log","domain":[1e-14,1e-10],"nice":false},"axis":null},"text":{"field":"name"}}}
]},
{"width":431,"height":82,"resolve":{"axis":{"x":"independent","y":"independent"}},"layer":[
{"data":{"name":"hl"},"transform":[{"filter":"datum.k=='g'"}],"mark":{"type":"rule","color":"#808080","strokeWidth":1,"strokeDash":[5,3],"clip":true},"encoding":{"x":{"field":"Ea","type":"quantitative","scale":{"type":"log","domain":[100,100000000],"nice":false},"axis":{"orient":"bottom","values":[100,1000,10000,100000,1000000,10000000,100000000],"labelExpr":"'10' + ['⁰','¹','²','³','⁴','⁵','⁶','⁷','⁸','⁹'][round(log(datum.value)/LN10)]","title":"Energy [MeV]","tickSize":-5,"labelPadding":9}},"x2":{"field":"Eb"},"y":{"field":"r","type":"quantitative","scale":{"domain":[-3,3],"nice":false},"axis":{"orient":"left","values":[-2,0,2],"title":["Fmeas. − Fmodel","σmeas."],"titleFontSize":8,"titlePadding":5,"tickSize":-5,"labelPadding":9}}}},
{"data":{"name":"hl"},"transform":[{"filter":"datum.k=='z'"}],"mark":{"type":"rule","color":"#d40000","strokeWidth":1.6,"strokeDash":[5,2.5],"clip":true},"encoding":{"x":{"field":"Ea","type":"quantitative","scale":{"type":"log","domain":[100,100000000],"nice":false},"axis":{"orient":"bottom","values":[200,300,400,500,600,700,800,900,2000,3000,4000,5000,6000,7000,8000,9000,20000,30000,40000,50000,60000,70000,80000,90000,200000,300000,400000,500000,600000,700000,800000,900000,2000000,3000000,4000000,5000000,6000000,7000000,8000000,9000000,20000000,30000000,40000000,50000000,60000000,70000000,80000000,90000000],"labels":false,"title":null,"tickSize":-2.8}},"x2":{"field":"Eb"},"y":{"field":"r","type":"quantitative","scale":{"domain":[-3,3],"nice":false},"axis":{"orient":"right","values":[-2,0,2],"labels":false,"title":null,"tickSize":-5}}}},
{"data":{"name":"p2"},"transform":[{"filter":"datum.res != null && datum.Elo != null"}],"mark":{"type":"rule","color":"#7a70b5","strokeWidth":2.5,"opacity":0.85,"clip":true},"encoding":{"x":{"field":"Elo","type":"quantitative","scale":{"type":"log","domain":[100,100000000],"nice":false},"axis":{"orient":"top","values":[100,1000,10000,100000,1000000,10000000,100000000],"labels":false,"title":null,"tickSize":-5}},"x2":{"field":"Ehi"},"y":{"field":"res","type":"quantitative","scale":{"domain":[-3,3],"nice":false},"axis":null}}},
{"data":{"name":"p2"},"transform":[{"filter":"datum.res != null"}],"mark":{"type":"rule","color":"#7a70b5","strokeWidth":2.5,"opacity":0.85,"clip":true},"encoding":{"x":{"field":"E","type":"quantitative","scale":{"type":"log","domain":[100,100000000],"nice":false},"axis":{"orient":"top","values":[200,300,400,500,600,700,800,900,2000,3000,4000,5000,6000,7000,8000,9000,20000,30000,40000,50000,60000,70000,80000,90000,200000,300000,400000,500000,600000,700000,800000,900000,2000000,3000000,4000000,5000000,6000000,7000000,8000000,9000000,20000000,30000000,40000000,50000000,60000000,70000000,80000000,90000000],"labels":false,"title":null,"tickSize":-2.8}},"y":{"field":"rl","type":"quantitative","scale":{"domain":[-3,3],"nice":false},"axis":null},"y2":{"field":"rh"}}},
{"data":{"name":"p2"},"transform":[{"filter":"datum.res != null"}],"mark":{"type":"point","shape":"circle","filled":true,"size":50,"color":"#7a70b5","opacity":1,"clip":true},"encoding":{"x":{"field":"E","type":"quantitative","scale":{"type":"log","domain":[100,100000000],"nice":false},"axis":null},"y":{"field":"res","type":"quantitative","scale":{"domain":[-3,3],"nice":false},"axis":null}}}
]}
]}
]},
{"spacing":33,"hconcat":[
{"spacing":0,"bounds":"flush","vconcat":[
{"width":435,"height":245,"resolve":{"axis":{"x":"independent","y":"independent"}},"layer":[
{"data":{"name":"c3"},"mark":{"type":"area","color":"#dcdcdc","interpolate":"monotone","clip":true},"encoding":{"x":{"field":"E","type":"quantitative","scale":{"type":"log","domain":[100,100000000],"nice":false},"axis":{"orient":"bottom","values":[100,1000,10000,100000,1000000,10000000,100000000],"labels":false,"title":null,"tickSize":-5}},"y":{"field":"ll","type":"quantitative","scale":{"type":"log","domain":[1e-14,1e-10],"nice":false},"axis":{"orient":"left","values":[1e-14,1e-13,1e-12,1e-11,1e-10],"labelExpr":"['10⁻¹⁰','10⁻¹¹','10⁻¹²','10⁻¹³','10⁻¹⁴','10⁻¹⁵'][-round(log(datum.value)/LN10)-10]","title":"E²dN/dE [erg s⁻¹ cm⁻²]","titlePadding":6,"tickSize":-5,"labelPadding":9}},"y2":{"field":"lh"}}},
{"data":{"name":"c3"},"mark":{"type":"area","color":"#8f8f8f","interpolate":"monotone","clip":true},"encoding":{"x":{"field":"E","type":"quantitative","scale":{"type":"log","domain":[100,100000000],"nice":false},"axis":{"orient":"bottom","values":[200,300,400,500,600,700,800,900,2000,3000,4000,5000,6000,7000,8000,9000,20000,30000,40000,50000,60000,70000,80000,90000,200000,300000,400000,500000,600000,700000,800000,900000,2000000,3000000,4000000,5000000,6000000,7000000,8000000,9000000,20000000,30000000,40000000,50000000,60000000,70000000,80000000,90000000],"labels":false,"title":null,"tickSize":-2.8}},"y":{"field":"dl","type":"quantitative","scale":{"type":"log","domain":[1e-14,1e-10],"nice":false},"axis":{"orient":"left","values":[2e-14,3e-14,4e-14,5e-14,6e-14,7e-14,8e-14,9e-14,2e-13,3e-13,4e-13,5e-13,6e-13,7e-13,8e-13,9e-13,2e-12,3e-12,4e-12,5e-12,6e-12,7e-12,8e-12,9e-12,2e-11,3e-11,4e-11,5e-11,6e-11,7e-11,8e-11,9e-11],"labels":false,"title":null,"tickSize":-2.8}},"y2":{"field":"dh"}}},
{"data":{"name":"c3"},"mark":{"type":"line","color":"black","strokeWidth":2,"interpolate":"monotone","clip":true},"encoding":{"x":{"field":"E","type":"quantitative","scale":{"type":"log","domain":[100,100000000],"nice":false},"axis":{"orient":"top","values":[100,1000,10000,100000,1000000,10000000,100000000],"labels":false,"title":null,"tickSize":-5}},"y":{"field":"t","type":"quantitative","scale":{"type":"log","domain":[1e-14,1e-10],"nice":false},"axis":{"orient":"right","values":[1e-14,1e-13,1e-12,1e-11,1e-10],"labels":false,"title":null,"tickSize":-5}}}},
{"data":{"name":"c3"},"mark":{"type":"line","color":"green","strokeWidth":1,"strokeDash":[3.7,1.6],"interpolate":"monotone","clip":true},"encoding":{"x":{"field":"E","type":"quantitative","scale":{"type":"log","domain":[100,100000000],"nice":false},"axis":{"orient":"top","values":[200,300,400,500,600,700,800,900,2000,3000,4000,5000,6000,7000,8000,9000,20000,30000,40000,50000,60000,70000,80000,90000,200000,300000,400000,500000,600000,700000,800000,900000,2000000,3000000,4000000,5000000,6000000,7000000,8000000,9000000,20000000,30000000,40000000,50000000,60000000,70000000,80000000,90000000],"labels":false,"title":null,"tickSize":-2.8}},"y":{"field":"g","type":"quantitative","scale":{"type":"log","domain":[1e-14,1e-10],"nice":false},"axis":{"orient":"right","values":[2e-14,3e-14,4e-14,5e-14,6e-14,7e-14,8e-14,9e-14,2e-13,3e-13,4e-13,5e-13,6e-13,7e-13,8e-13,9e-13,2e-12,3e-12,4e-12,5e-12,6e-12,7e-12,8e-12,9e-12,2e-11,3e-11,4e-11,5e-11,6e-11,7e-11,8e-11,9e-11],"labels":false,"title":null,"tickSize":-2.8}}}},
{"data":{"name":"c3"},"mark":{"type":"line","color":"red","strokeWidth":1,"strokeDash":[3.7,1.6],"interpolate":"monotone","clip":true},"encoding":{"x":{"field":"E","type":"quantitative","scale":{"type":"log","domain":[100,100000000],"nice":false},"axis":null},"y":{"field":"r","type":"quantitative","scale":{"type":"log","domain":[1e-14,1e-10],"nice":false},"axis":null}}},
{"data":{"name":"c3"},"mark":{"type":"line","color":"red","strokeWidth":1,"strokeDash":[3.7,1.6],"interpolate":"monotone","clip":true},"encoding":{"x":{"field":"E","type":"quantitative","scale":{"type":"log","domain":[100,100000000],"nice":false},"axis":null},"y":{"field":"s","type":"quantitative","scale":{"type":"log","domain":[1e-14,1e-10],"nice":false},"axis":null}}},
{"data":{"name":"p3"},"transform":[{"filter":"datum.Elo != null"}],"mark":{"type":"rule","color":"#7a70b5","strokeWidth":2.5,"opacity":0.85,"clip":true},"encoding":{"x":{"field":"Elo","type":"quantitative","scale":{"type":"log","domain":[100,100000000],"nice":false},"axis":null},"x2":{"field":"Ehi"},"y":{"field":"F","type":"quantitative","scale":{"type":"log","domain":[1e-14,1e-10],"nice":false},"axis":null}}},
{"data":{"name":"p3"},"transform":[{"filter":"!datum.ul"}],"mark":{"type":"rule","color":"#7a70b5","strokeWidth":2.5,"opacity":0.85,"clip":true},"encoding":{"x":{"field":"E","type":"quantitative","scale":{"type":"log","domain":[100,100000000],"nice":false},"axis":null},"y":{"field":"Flo","type":"quantitative","scale":{"type":"log","domain":[1e-14,1e-10],"nice":false},"axis":null},"y2":{"field":"Fhi"}}},
{"data":{"name":"p3"},"transform":[{"filter":"datum.ul"}],"mark":{"type":"rule","color":"#7a70b5","strokeWidth":2.5,"opacity":0.85,"clip":true},"encoding":{"x":{"field":"E","type":"quantitative","scale":{"type":"log","domain":[100,100000000],"nice":false},"axis":null},"y":{"field":"Ft","type":"quantitative","scale":{"type":"log","domain":[1e-14,1e-10],"nice":false},"axis":null},"y2":{"field":"F"}}},
{"data":{"name":"p3"},"transform":[{"filter":"!datum.ul"}],"mark":{"type":"point","shape":"circle","filled":true,"size":50,"color":"#7a70b5","opacity":1,"clip":true},"encoding":{"x":{"field":"E","type":"quantitative","scale":{"type":"log","domain":[100,100000000],"nice":false},"axis":null},"y":{"field":"F","type":"quantitative","scale":{"type":"log","domain":[1e-14,1e-10],"nice":false},"axis":null}}},
{"data":{"name":"p3"},"transform":[{"filter":"datum.ul"}],"mark":{"type":"point","shape":"triangle-down","filled":true,"size":80,"color":"#7a70b5","opacity":1,"clip":true},"encoding":{"x":{"field":"E","type":"quantitative","scale":{"type":"log","domain":[100,100000000],"nice":false},"axis":null},"y":{"field":"Ft","type":"quantitative","scale":{"type":"log","domain":[1e-14,1e-10],"nice":false},"axis":null}}},
{"data":{"values":[{"E":203,"F":2.49e-11,"name":"NGC 253"}]},"mark":{"type":"text","align":"left","baseline":"middle","fontSize":17,"font":"DejaVu Sans","color":"black"},"encoding":{"x":{"field":"E","type":"quantitative","scale":{"type":"log","domain":[100,100000000],"nice":false},"axis":null},"y":{"field":"F","type":"quantitative","scale":{"type":"log","domain":[1e-14,1e-10],"nice":false},"axis":null},"text":{"field":"name"}}}
]},
{"width":435,"height":82,"resolve":{"axis":{"x":"independent","y":"independent"}},"layer":[
{"data":{"name":"hl"},"transform":[{"filter":"datum.k=='g'"}],"mark":{"type":"rule","color":"#808080","strokeWidth":1,"strokeDash":[5,3],"clip":true},"encoding":{"x":{"field":"Ea","type":"quantitative","scale":{"type":"log","domain":[100,100000000],"nice":false},"axis":{"orient":"bottom","values":[100,1000,10000,100000,1000000,10000000,100000000],"labelExpr":"'10' + ['⁰','¹','²','³','⁴','⁵','⁶','⁷','⁸','⁹'][round(log(datum.value)/LN10)]","title":"Energy [MeV]","tickSize":-5,"labelPadding":9}},"x2":{"field":"Eb"},"y":{"field":"r","type":"quantitative","scale":{"domain":[-3,3],"nice":false},"axis":{"orient":"left","values":[-2,0,2],"title":["Fmeas. − Fmodel","σmeas."],"titleFontSize":8,"titlePadding":5,"tickSize":-5,"labelPadding":9}}}},
{"data":{"name":"hl"},"transform":[{"filter":"datum.k=='z'"}],"mark":{"type":"rule","color":"#d40000","strokeWidth":1.6,"strokeDash":[5,2.5],"clip":true},"encoding":{"x":{"field":"Ea","type":"quantitative","scale":{"type":"log","domain":[100,100000000],"nice":false},"axis":{"orient":"bottom","values":[200,300,400,500,600,700,800,900,2000,3000,4000,5000,6000,7000,8000,9000,20000,30000,40000,50000,60000,70000,80000,90000,200000,300000,400000,500000,600000,700000,800000,900000,2000000,3000000,4000000,5000000,6000000,7000000,8000000,9000000,20000000,30000000,40000000,50000000,60000000,70000000,80000000,90000000],"labels":false,"title":null,"tickSize":-2.8}},"x2":{"field":"Eb"},"y":{"field":"r","type":"quantitative","scale":{"domain":[-3,3],"nice":false},"axis":{"orient":"right","values":[-2,0,2],"labels":false,"title":null,"tickSize":-5}}}},
{"data":{"name":"p3"},"transform":[{"filter":"datum.res != null && datum.Elo != null"}],"mark":{"type":"rule","color":"#7a70b5","strokeWidth":2.5,"opacity":0.85,"clip":true},"encoding":{"x":{"field":"Elo","type":"quantitative","scale":{"type":"log","domain":[100,100000000],"nice":false},"axis":{"orient":"top","values":[100,1000,10000,100000,1000000,10000000,100000000],"labels":false,"title":null,"tickSize":-5}},"x2":{"field":"Ehi"},"y":{"field":"res","type":"quantitative","scale":{"domain":[-3,3],"nice":false},"axis":null}}},
{"data":{"name":"p3"},"transform":[{"filter":"datum.res != null"}],"mark":{"type":"rule","color":"#7a70b5","strokeWidth":2.5,"opacity":0.85,"clip":true},"encoding":{"x":{"field":"E","type":"quantitative","scale":{"type":"log","domain":[100,100000000],"nice":false},"axis":{"orient":"top","values":[200,300,400,500,600,700,800,900,2000,3000,4000,5000,6000,7000,8000,9000,20000,30000,40000,50000,60000,70000,80000,90000,200000,300000,400000,500000,600000,700000,800000,900000,2000000,3000000,4000000,5000000,6000000,7000000,8000000,9000000,20000000,30000000,40000000,50000000,60000000,70000000,80000000,90000000],"labels":false,"title":null,"tickSize":-2.8}},"y":{"field":"rl","type":"quantitative","scale":{"domain":[-3,3],"nice":false},"axis":null},"y2":{"field":"rh"}}},
{"data":{"name":"p3"},"transform":[{"filter":"datum.res != null"}],"mark":{"type":"point","shape":"circle","filled":true,"size":50,"color":"#7a70b5","opacity":1,"clip":true},"encoding":{"x":{"field":"E","type":"quantitative","scale":{"type":"log","domain":[100,100000000],"nice":false},"axis":null},"y":{"field":"res","type":"quantitative","scale":{"domain":[-3,3],"nice":false},"axis":null}}}
]}
]},
{"spacing":0,"bounds":"flush","vconcat":[
{"width":431,"height":245,"resolve":{"axis":{"x":"independent","y":"independent"}},"layer":[
{"data":{"name":"c4"},"mark":{"type":"area","color":"#dcdcdc","interpolate":"monotone","clip":true},"encoding":{"x":{"field":"E","type":"quantitative","scale":{"type":"log","domain":[100,100000000],"nice":false},"axis":{"orient":"bottom","values":[100,1000,10000,100000,1000000,10000000,100000000],"labels":false,"title":null,"tickSize":-5}},"y":{"field":"ll","type":"quantitative","scale":{"type":"log","domain":[1e-14,1e-10],"nice":false},"axis":{"orient":"left","values":[1e-14,1e-13,1e-12,1e-11,1e-10],"labelExpr":"['10⁻¹⁰','10⁻¹¹','10⁻¹²','10⁻¹³','10⁻¹⁴','10⁻¹⁵'][-round(log(datum.value)/LN10)-10]","title":"E²dN/dE [erg s⁻¹ cm⁻²]","titlePadding":6,"tickSize":-5,"labelPadding":9}},"y2":{"field":"lh"}}},
{"data":{"name":"c4"},"mark":{"type":"area","color":"#8f8f8f","interpolate":"monotone","clip":true},"encoding":{"x":{"field":"E","type":"quantitative","scale":{"type":"log","domain":[100,100000000],"nice":false},"axis":{"orient":"bottom","values":[200,300,400,500,600,700,800,900,2000,3000,4000,5000,6000,7000,8000,9000,20000,30000,40000,50000,60000,70000,80000,90000,200000,300000,400000,500000,600000,700000,800000,900000,2000000,3000000,4000000,5000000,6000000,7000000,8000000,9000000,20000000,30000000,40000000,50000000,60000000,70000000,80000000,90000000],"labels":false,"title":null,"tickSize":-2.8}},"y":{"field":"dl","type":"quantitative","scale":{"type":"log","domain":[1e-14,1e-10],"nice":false},"axis":{"orient":"left","values":[2e-14,3e-14,4e-14,5e-14,6e-14,7e-14,8e-14,9e-14,2e-13,3e-13,4e-13,5e-13,6e-13,7e-13,8e-13,9e-13,2e-12,3e-12,4e-12,5e-12,6e-12,7e-12,8e-12,9e-12,2e-11,3e-11,4e-11,5e-11,6e-11,7e-11,8e-11,9e-11],"labels":false,"title":null,"tickSize":-2.8}},"y2":{"field":"dh"}}},
{"data":{"name":"c4"},"mark":{"type":"line","color":"black","strokeWidth":2,"interpolate":"monotone","clip":true},"encoding":{"x":{"field":"E","type":"quantitative","scale":{"type":"log","domain":[100,100000000],"nice":false},"axis":{"orient":"top","values":[100,1000,10000,100000,1000000,10000000,100000000],"labels":false,"title":null,"tickSize":-5}},"y":{"field":"t","type":"quantitative","scale":{"type":"log","domain":[1e-14,1e-10],"nice":false},"axis":{"orient":"right","values":[1e-14,1e-13,1e-12,1e-11,1e-10],"labels":false,"title":null,"tickSize":-5}}}},
{"data":{"name":"c4"},"mark":{"type":"line","color":"green","strokeWidth":1,"strokeDash":[3.7,1.6],"interpolate":"monotone","clip":true},"encoding":{"x":{"field":"E","type":"quantitative","scale":{"type":"log","domain":[100,100000000],"nice":false},"axis":{"orient":"top","values":[200,300,400,500,600,700,800,900,2000,3000,4000,5000,6000,7000,8000,9000,20000,30000,40000,50000,60000,70000,80000,90000,200000,300000,400000,500000,600000,700000,800000,900000,2000000,3000000,4000000,5000000,6000000,7000000,8000000,9000000,20000000,30000000,40000000,50000000,60000000,70000000,80000000,90000000],"labels":false,"title":null,"tickSize":-2.8}},"y":{"field":"g","type":"quantitative","scale":{"type":"log","domain":[1e-14,1e-10],"nice":false},"axis":{"orient":"right","values":[2e-14,3e-14,4e-14,5e-14,6e-14,7e-14,8e-14,9e-14,2e-13,3e-13,4e-13,5e-13,6e-13,7e-13,8e-13,9e-13,2e-12,3e-12,4e-12,5e-12,6e-12,7e-12,8e-12,9e-12,2e-11,3e-11,4e-11,5e-11,6e-11,7e-11,8e-11,9e-11],"labels":false,"title":null,"tickSize":-2.8}}}},
{"data":{"name":"c4"},"mark":{"type":"line","color":"red","strokeWidth":1,"strokeDash":[3.7,1.6],"interpolate":"monotone","clip":true},"encoding":{"x":{"field":"E","type":"quantitative","scale":{"type":"log","domain":[100,100000000],"nice":false},"axis":null},"y":{"field":"r","type":"quantitative","scale":{"type":"log","domain":[1e-14,1e-10],"nice":false},"axis":null}}},
{"data":{"name":"c4"},"mark":{"type":"line","color":"black","strokeWidth":1,"strokeDash":[3.7,1.6],"interpolate":"monotone","clip":true},"encoding":{"x":{"field":"E","type":"quantitative","scale":{"type":"log","domain":[100,100000000],"nice":false},"axis":null},"y":{"field":"s","type":"quantitative","scale":{"type":"log","domain":[1e-14,1e-10],"nice":false},"axis":null}}},
{"data":{"name":"p4"},"transform":[{"filter":"datum.Elo != null"}],"mark":{"type":"rule","color":"#7a70b5","strokeWidth":2.5,"opacity":0.85,"clip":true},"encoding":{"x":{"field":"Elo","type":"quantitative","scale":{"type":"log","domain":[100,100000000],"nice":false},"axis":null},"x2":{"field":"Ehi"},"y":{"field":"F","type":"quantitative","scale":{"type":"log","domain":[1e-14,1e-10],"nice":false},"axis":null}}},
{"data":{"name":"p4"},"transform":[{"filter":"!datum.ul"}],"mark":{"type":"rule","color":"#7a70b5","strokeWidth":2.5,"opacity":0.85,"clip":true},"encoding":{"x":{"field":"E","type":"quantitative","scale":{"type":"log","domain":[100,100000000],"nice":false},"axis":null},"y":{"field":"Flo","type":"quantitative","scale":{"type":"log","domain":[1e-14,1e-10],"nice":false},"axis":null},"y2":{"field":"Fhi"}}},
{"data":{"name":"p4"},"transform":[{"filter":"datum.ul"}],"mark":{"type":"rule","color":"#7a70b5","strokeWidth":2.5,"opacity":0.85,"clip":true},"encoding":{"x":{"field":"E","type":"quantitative","scale":{"type":"log","domain":[100,100000000],"nice":false},"axis":null},"y":{"field":"Ft","type":"quantitative","scale":{"type":"log","domain":[1e-14,1e-10],"nice":false},"axis":null},"y2":{"field":"F"}}},
{"data":{"name":"p4"},"transform":[{"filter":"!datum.ul"}],"mark":{"type":"point","shape":"circle","filled":true,"size":50,"color":"#7a70b5","opacity":1,"clip":true},"encoding":{"x":{"field":"E","type":"quantitative","scale":{"type":"log","domain":[100,100000000],"nice":false},"axis":null},"y":{"field":"F","type":"quantitative","scale":{"type":"log","domain":[1e-14,1e-10],"nice":false},"axis":null}}},
{"data":{"name":"p4"},"transform":[{"filter":"datum.ul"}],"mark":{"type":"point","shape":"triangle-down","filled":true,"size":80,"color":"#7a70b5","opacity":1,"clip":true},"encoding":{"x":{"field":"E","type":"quantitative","scale":{"type":"log","domain":[100,100000000],"nice":false},"axis":null},"y":{"field":"Ft","type":"quantitative","scale":{"type":"log","domain":[1e-14,1e-10],"nice":false},"axis":null}}},
{"data":{"values":[{"E":202,"F":2.42e-11,"name":"M82"}]},"mark":{"type":"text","align":"left","baseline":"middle","fontSize":17,"font":"DejaVu Sans","color":"black"},"encoding":{"x":{"field":"E","type":"quantitative","scale":{"type":"log","domain":[100,100000000],"nice":false},"axis":null},"y":{"field":"F","type":"quantitative","scale":{"type":"log","domain":[1e-14,1e-10],"nice":false},"axis":null},"text":{"field":"name"}}}
]},
{"width":431,"height":82,"resolve":{"axis":{"x":"independent","y":"independent"}},"layer":[
{"data":{"name":"hl"},"transform":[{"filter":"datum.k=='g'"}],"mark":{"type":"rule","color":"#808080","strokeWidth":1,"strokeDash":[5,3],"clip":true},"encoding":{"x":{"field":"Ea","type":"quantitative","scale":{"type":"log","domain":[100,100000000],"nice":false},"axis":{"orient":"bottom","values":[100,1000,10000,100000,1000000,10000000,100000000],"labelExpr":"'10' + ['⁰','¹','²','³','⁴','⁵','⁶','⁷','⁸','⁹'][round(log(datum.value)/LN10)]","title":"Energy [MeV]","tickSize":-5,"labelPadding":9}},"x2":{"field":"Eb"},"y":{"field":"r","type":"quantitative","scale":{"domain":[-3,3],"nice":false},"axis":{"orient":"left","values":[-2,0,2],"title":["Fmeas. − Fmodel","σmeas."],"titleFontSize":8,"titlePadding":5,"tickSize":-5,"labelPadding":9}}}},
{"data":{"name":"hl"},"transform":[{"filter":"datum.k=='z'"}],"mark":{"type":"rule","color":"#d40000","strokeWidth":1.6,"strokeDash":[5,2.5],"clip":true},"encoding":{"x":{"field":"Ea","type":"quantitative","scale":{"type":"log","domain":[100,100000000],"nice":false},"axis":{"orient":"bottom","values":[200,300,400,500,600,700,800,900,2000,3000,4000,5000,6000,7000,8000,9000,20000,30000,40000,50000,60000,70000,80000,90000,200000,300000,400000,500000,600000,700000,800000,900000,2000000,3000000,4000000,5000000,6000000,7000000,8000000,9000000,20000000,30000000,40000000,50000000,60000000,70000000,80000000,90000000],"labels":false,"title":null,"tickSize":-2.8}},"x2":{"field":"Eb"},"y":{"field":"r","type":"quantitative","scale":{"domain":[-3,3],"nice":false},"axis":{"orient":"right","values":[-2,0,2],"labels":false,"title":null,"tickSize":-5}}}},
{"data":{"name":"p4"},"transform":[{"filter":"datum.res != null && datum.Elo != null"}],"mark":{"type":"rule","color":"#7a70b5","strokeWidth":2.5,"opacity":0.85,"clip":true},"encoding":{"x":{"field":"Elo","type":"quantitative","scale":{"type":"log","domain":[100,100000000],"nice":false},"axis":{"orient":"top","values":[100,1000,10000,100000,1000000,10000000,100000000],"labels":false,"title":null,"tickSize":-5}},"x2":{"field":"Ehi"},"y":{"field":"res","type":"quantitative","scale":{"domain":[-3,3],"nice":false},"axis":null}}},
{"data":{"name":"p4"},"transform":[{"filter":"datum.res != null"}],"mark":{"type":"rule","color":"#7a70b5","strokeWidth":2.5,"opacity":0.85,"clip":true},"encoding":{"x":{"field":"E","type":"quantitative","scale":{"type":"log","domain":[100,100000000],"nice":false},"axis":{"orient":"top","values":[200,300,400,500,600,700,800,900,2000,3000,4000,5000,6000,7000,8000,9000,20000,30000,40000,50000,60000,70000,80000,90000,200000,300000,400000,500000,600000,700000,800000,900000,2000000,3000000,4000000,5000000,6000000,7000000,8000000,9000000,20000000,30000000,40000000,50000000,60000000,70000000,80000000,90000000],"labels":false,"title":null,"tickSize":-2.8}},"y":{"field":"rl","type":"quantitative","scale":{"domain":[-3,3],"nice":false},"axis":null},"y2":{"field":"rh"}}},
{"data":{"name":"p4"},"transform":[{"filter":"datum.res != null"}],"mark":{"type":"point","shape":"circle","filled":true,"size":50,"color":"#7a70b5","opacity":1,"clip":true},"encoding":{"x":{"field":"E","type":"quantitative","scale":{"type":"log","domain":[100,100000000],"nice":false},"axis":null},"y":{"field":"res","type":"quantitative","scale":{"domain":[-3,3],"nice":false},"axis":null}}}
]}
]}
]}
]
}
